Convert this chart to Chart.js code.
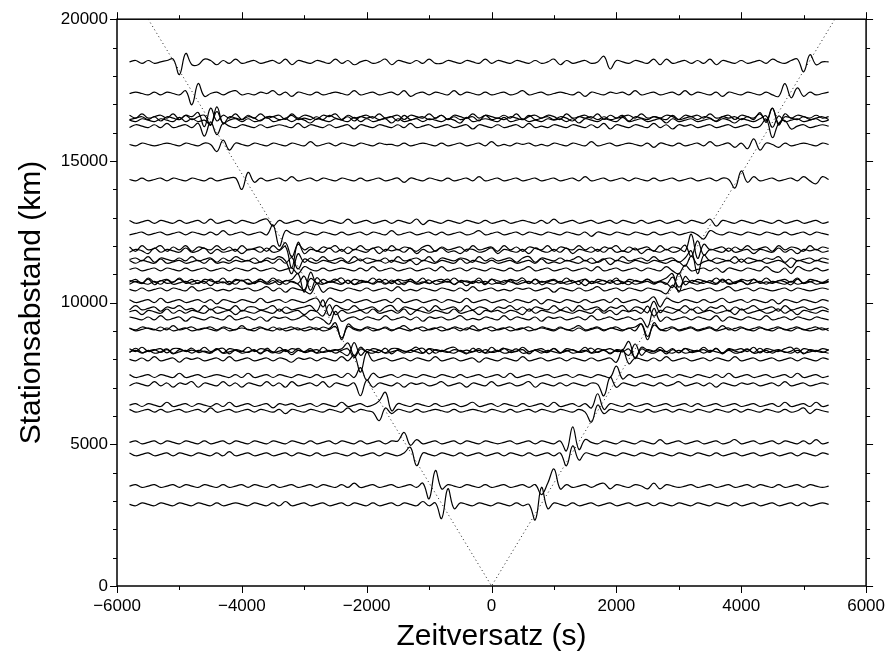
<!DOCTYPE html>
<html>
<head>
<meta charset="utf-8">
<script src="https://cdn.jsdelivr.net/npm/chart.js@4.4.1/dist/chart.umd.min.js"></script>
<style>
  html, body { margin: 0; padding: 0; background: #fff; }
  canvas { display: block; }
</style>
</head>
<body>
<canvas id="traceChart" width="895" height="657"></canvas>
<script>
// Kreuzkorrelationen: Zeitversatz (s) gegen Stationsabstand (km)
var xTicks = [-6000, -4000, -2000, 0, 2000, 4000, 6000];
var yTicks = [0, 5000, 10000, 15000, 20000];

// Abtastung der Spuren: Start, Schritt (s)
var tStart = -5800;
var tStep = 100;

// Laufzeitkurve (gepunktet)
var moveoutTime = [-5500, 0, 5500];
var moveoutDist = [20000, 0, 20000];

// Stationsabstand jeder Spur (km)
var distances = [18493, 17378, 16561, 16508, 16437, 16226, 15580, 14345, 12849, 12440,
  11911, 11827, 11523, 11438, 11170, 10768, 10730, 10698, 10465, 10053,
  9795, 9675, 9442, 9089, 9054, 8324, 8290, 8264, 7996, 7407,
  7114, 6384, 6183, 5068, 4645, 3527, 2881];

// Amplituden (relative Einheiten), je 113 Werte von -5800 bis 5400 s
var tr01 = [0,1,-1,1,-1,0,1,2,-9,6,  -2,-2,2,1,-2,1,-1,2,-1,0,  1,-1,0,1,-1,2,-2,1,0,-1,  1,0,-1,2,-1,1,-2,0,1,-1,  0,2,-2,1,0,-1,1,-1,2,-1,  -1,1,0,-1,1,0,-1,2,-1,1,  0,-1,1,0,-1,1,-1,0,2,-2,  1,-1,0,1,-1,0,4,-5,1,0,  -1,1,0,-1,2,-2,2,-1,0,1,  -1,1,-1,2,-2,1,0,-1,1,-1,  0,1,-1,2,0,-1,1,2,-7,5,  -2,0,0];
var tr02 = [0,1,0,-1,1,-1,1,0,-1,2,  -8,7,-2,0,1,-1,1,2,-1,0,  -1,1,0,2,-1,1,-2,1,0,-1,  1,-1,0,1,0,-1,2,-1,0,1,  -1,0,1,-1,2,-2,0,1,-1,1,  0,-1,2,-1,1,0,-1,1,-1,0,  1,-1,0,2,-1,0,1,-1,0,1,  0,-1,1,-2,1,0,-1,1,0,1,  -1,2,-1,0,1,-1,0,1,-1,2,  -1,1,0,-1,1,-2,1,0,-1,1,  0,-1,1,-1,-2,7,-3,4,-2,1,  -1,0,1];
var tr03 = [1,-1,2,-1,0,1,-1,2,-2,1,  0,3,-7,6,-3,1,-1,2,-2,1,  -1,2,-1,0,1,-2,2,-1,1,0,  -2,1,0,2,-2,1,-1,0,1,-1,  2,-1,0,1,-2,1,0,-1,2,-1,  1,-2,1,0,-1,2,-1,1,0,-1,  1,-1,2,-2,0,1,-1,1,0,-2,  2,-1,0,1,-1,2,-2,1,-1,0,  1,-1,2,-1,0,-1,1,0,-2,1,  0,1,-1,2,-1,0,1,-2,1,0,  -1,2,-3,6,-6,2,-1,1,0,-1,  1,-1,0];
var tr04 = [-1,0,1,-1,1,-2,1,0,-1,2,  -1,1,2,-5,8,-4,1,0,-1,1,  0,-2,1,1,-1,0,2,-1,0,-1,  1,-1,2,0,-1,1,-2,1,0,1,  -1,0,1,-2,2,-1,0,1,-1,0,  2,-1,1,-1,0,1,-2,2,-1,0,  -1,1,0,-1,2,-1,0,1,-1,1,  0,-2,1,0,1,-1,1,-1,0,2,  -2,1,0,-1,1,0,-1,2,-1,0,  1,-1,1,0,-2,1,0,1,-1,1,  -1,4,-3,7,-4,1,0,-1,1,-1,  0,1,-1];
var tr05 = [0,-1,1,0,-1,1,0,-1,2,-1,  1,-1,0,-3,6,-2,0,1,-1,1,  -1,0,2,-1,0,1,-1,1,0,-2,  1,0,-1,1,0,-1,2,-1,1,-1,  0,1,-2,1,-1,0,1,-1,1,0,  -1,1,0,-2,2,-1,0,1,0,-1,  2,-1,0,1,-1,0,-1,1,0,1,  -1,1,-2,1,0,-1,1,0,-1,2,  -1,0,1,-1,0,1,-2,1,-1,0,  1,-1,0,1,-1,1,0,-2,1,0,  -1,1,3,-5,3,-1,0,1,-1,0,  1,-1,0];
var tr06 = [-1,1,0,-1,1,-1,2,-1,0,1,  -1,2,-7,3,-6,2,0,-1,1,0,  -1,1,-1,0,1,0,-1,2,-1,1,  0,-1,1,-1,0,1,-2,1,0,-1,  1,0,-1,1,-1,2,-1,0,1,-1,  0,1,-1,0,1,-2,1,0,-1,1,  -1,0,1,-1,2,-1,0,-1,1,0,  -1,1,0,-1,1,-1,2,-2,1,0,  -1,1,0,-1,2,-1,1,-2,1,0,  1,-1,0,1,-1,0,1,-1,0,1,  -1,0,5,-8,2,4,-2,0,1,-1,  0,1,0];
var tr07 = [0,-1,1,0,-1,0,1,0,-1,1,  0,-1,1,0,-5,3,-4,1,0,-1,  1,0,-1,1,0,-1,1,0,-1,2,  -1,0,1,-1,1,0,-1,1,0,-1,  1,0,0,-1,1,-1,0,1,0,-1,  1,-1,0,1,-1,0,1,-1,2,-1,  0,-1,1,0,1,-1,0,-1,1,0,  -1,1,0,-1,2,-1,0,1,-1,0,  1,0,-1,1,-2,1,0,-1,1,-1,  0,1,-1,2,-1,0,1,-2,1,-3,  4,-4,1,0,-2,1,-1,0,1,0,  -1,1,0];
var tr08 = [0,-1,1,-1,0,1,-1,1,0,-1,  1,0,-1,1,-1,0,1,1,-7,5,  -2,1,-1,0,1,-1,2,-1,0,1,  -1,1,0,-1,1,0,-1,1,-1,0,  1,-1,0,1,-2,1,0,-1,1,0,  -1,1,-1,0,1,-1,2,-1,0,1,  -1,0,1,-1,0,1,-1,0,1,-1,  0,1,-1,2,-1,0,1,-1,0,1,  -1,1,0,-1,1,-1,0,1,-1,0,  1,-1,0,1,-1,1,0,-6,6,-2,  2,-1,0,1,-1,0,1,-1,2,-1,  -3,2,0];
var tr09 = [1,-1,0,1,-1,1,0,-1,1,-1,  0,1,-1,2,-1,0,1,-1,1,0,  -1,1,2,-3,1,-1,0,1,-1,1,  0,-1,1,0,-1,2,-1,0,1,-1,  0,1,-1,1,0,-1,2,-2,1,0,  -1,1,0,-1,1,0,-1,1,-1,0,  1,-1,0,1,0,-1,1,-1,2,-1,  0,1,-1,0,1,-1,0,1,-1,1,  0,-1,1,-1,0,1,-1,0,1,-1,  1,0,-1,2,-3,1,0,-1,1,0,  -1,1,0,-1,1,-1,0,1,-1,0,  1,-1,0];
var tr10 = [-1,0,1,-1,0,1,-1,0,1,-1,  1,0,-1,1,-1,2,-1,0,1,-1,  0,1,-1,6,-9,2,0,-1,1,0,  -1,1,0,-1,1,-1,0,1,-1,1,  0,-1,2,-1,0,1,-1,0,1,-1,  1,-1,0,1,-1,0,2,-1,0,1,  -1,0,1,-1,1,0,-1,1,0,-1,  1,0,-1,1,-2,1,0,-1,1,0,  -1,1,0,-1,1,-1,0,1,-1,0,  1,-1,-4,2,0,-1,1,0,-1,1,  0,-1,1,0,-1,1,-1,0,1,-1,  1,0,-1];
var tr11 = [1,-2,2,-1,0,2,-2,1,-1,2,  -2,1,0,-1,2,-1,1,-2,2,-1,  0,1,-2,2,-1,4,-6,3,-1,1,  -2,1,0,2,-2,1,-1,2,-1,0,  1,-2,2,-1,1,0,-2,1,2,-2,  1,-1,0,1,-2,2,-1,0,1,-2,  2,-1,1,-2,1,0,-1,2,-2,1,  0,-1,2,-1,1,-2,1,0,2,-2,  1,-1,0,1,-2,2,-1,1,0,-2,  10,-7,3,-1,0,1,-2,1,-1,2,  -1,0,1,-2,2,-1,1,0,-2,2,  -1,1,0];
var tr12 = [-1,1,0,-2,2,-1,1,0,-1,2,  -1,0,2,-2,1,-1,0,1,-2,1,  1,-1,2,-1,0,3,-12,6,-2,1,  0,-1,2,-1,1,-2,1,0,-1,2,  -2,1,0,1,-1,2,-2,1,-1,0,  2,-1,0,-2,1,1,-1,0,2,-2,  1,0,-1,1,-2,2,0,-1,1,-1,  2,-2,1,0,-1,1,-1,2,-1,0,  -1,2,-2,1,0,-1,1,-1,0,4,  -4,7,-3,1,0,-1,2,-1,0,1,  -2,1,0,-1,2,-1,1,-2,1,0,  1,-1,0];
var tr13 = [0,1,-1,2,-2,1,0,-1,1,-1,  2,-1,0,1,-2,1,-1,2,0,-1,  1,-2,1,0,2,-1,-10,4,-2,1,  -1,2,-1,0,1,-2,2,-1,1,0,  -1,1,-2,2,-1,0,1,-1,2,-2,  1,0,-1,1,0,-2,2,-1,1,-1,  0,1,-2,1,2,-2,1,0,-1,1,  -1,0,2,-1,1,-2,0,1,-1,2,  -1,0,1,-1,2,-1,0,1,-2,1,  6,-10,3,-1,1,0,-1,2,-2,1,  0,-1,1,0,2,-2,1,-1,0,1,  -1,1,0];
var tr14 = [1,-1,1,0,-1,2,-1,0,1,-1,  0,1,-1,2,-1,0,-1,1,0,1,  -1,0,1,-1,2,-1,3,-5,2,0,  -1,1,0,-1,1,-1,0,2,-1,0,  1,-1,1,0,-1,1,-2,1,0,-1,  1,0,-1,2,-1,1,0,-1,1,-1,  0,1,-1,0,1,-1,2,-1,0,-1,  1,0,-1,1,-1,0,2,-2,1,0,  -1,1,0,-1,1,0,-1,1,0,-3,  4,-2,0,1,-1,0,1,-1,2,-1,  0,1,-1,0,1,-1,-4,1,0,-1,  1,0,-1];
var tr15 = [0,1,-1,0,1,-1,1,0,-1,1,  -1,0,1,-1,0,1,-1,1,0,-1,  1,-1,0,1,-1,0,1,-3,2,0,  -1,1,-1,0,1,0,-1,1,-1,2,  -1,0,1,-1,0,1,-1,0,1,-1,  2,-1,0,1,-1,1,0,-1,1,0,  -1,1,-1,0,2,-1,0,1,-1,0,  1,-1,0,1,-1,2,-1,0,1,-1,  0,1,-1,1,0,-1,2,-1,-3,3,  -1,0,1,-1,1,-2,1,0,-1,1,  0,-1,2,-1,-2,1,-3,2,0,-1,  1,-1,0];
var tr16 = [-1,1,-2,2,-1,0,1,-1,2,-1,  1,-2,1,0,-1,2,-2,1,0,1,  -2,1,-1,2,-1,0,1,5,-8,6,  -2,1,-1,0,2,-2,1,0,-1,2,  -1,1,-2,1,0,1,-1,2,-2,0,  1,-1,2,-1,0,-1,2,-2,1,0,  -1,1,0,2,-2,1,-1,0,1,-1,  2,-1,0,1,-2,1,0,-1,2,-2,  1,0,-1,1,-1,0,2,5,-8,3,  -1,1,0,-1,2,-1,1,-2,1,0,  1,-1,2,-1,0,1,-1,2,-2,1,  0,-1,1];
var tr17 = [1,0,-1,2,-2,1,-1,0,2,-1,  0,1,-1,2,-1,0,-2,1,1,-1,  0,2,-1,1,-2,1,0,-1,4,-6,  3,-1,0,2,-1,1,-2,1,0,-1,  2,-1,0,1,-2,2,-1,0,-1,1,  0,2,-2,1,0,-1,1,-2,2,-1,  1,0,-1,1,-1,2,-2,0,1,-1,  0,1,-2,2,-1,0,1,-1,1,0,  -2,1,0,2,-1,0,-1,-4,6,-2,  1,0,-1,1,-1,2,-1,0,1,-2,  2,-1,0,-1,1,0,-2,2,-1,0,  1,-1,0];
var tr18 = [-1,1,0,-1,1,-1,2,-1,0,1,  -1,0,1,-2,1,0,1,-1,2,-1,  0,1,-1,0,2,-1,1,-1,-5,3,  0,-1,1,0,-1,2,-1,0,1,-1,  1,-1,2,-1,0,1,-1,0,2,-1,  0,1,-1,1,-2,1,0,1,-1,0,  -1,2,-1,0,1,-1,1,0,-1,1,  -1,0,1,-2,1,0,-1,2,-1,0,  1,-1,0,1,-1,1,-1,4,-3,1,  0,-1,1,0,-1,2,-1,0,1,-1,  0,1,-1,1,0,-1,1,-1,0,1,  -1,0,1];
var tr19 = [0,-1,1,-1,0,1,-1,1,0,-1,  2,-1,0,1,-1,0,-1,1,0,1,  -1,0,2,-1,1,-2,1,0,-1,-3,  4,-2,1,0,-1,1,0,-1,1,-1,  0,1,-1,2,-1,0,-1,1,0,-1,  1,0,-1,1,-1,2,-1,0,1,-1,  0,-1,1,0,1,-1,0,1,-2,1,  0,-1,1,-1,0,2,-1,0,1,-1,  1,0,-1,1,0,-1,-3,3,-1,0,  1,-1,0,1,-1,0,2,-1,0,1,  -1,1,0,-1,0,1,-1,1,0,-1,  0,1,0];
var tr20 = [1,-1,0,1,-1,2,-1,0,1,-1,  0,1,-1,1,-2,1,0,-1,1,0,  -1,2,-1,0,1,-1,1,0,-1,1,  2,-4,2,0,-1,1,-1,0,1,-1,  0,1,-1,2,-1,0,1,-1,0,1,  -1,1,0,-1,2,-1,0,1,-1,0,  1,-1,1,0,-1,1,-2,1,0,-1,  1,0,-1,1,-1,0,1,-1,2,-1,  0,1,-1,0,3,-4,2,0,-1,1,  0,-1,1,-1,0,2,-1,0,1,-1,  1,0,-1,1,-2,1,0,-1,1,0,  -1,1,0];
var tr21 = [-1,2,-1,0,1,-2,1,0,2,-1,  0,-2,2,-1,1,0,-1,2,-2,1,  1,-1,0,2,-2,1,-1,0,1,2,  -2,6,-5,2,0,-1,2,-1,0,1,  -2,1,2,-2,1,0,-1,1,-2,2,  -1,0,1,-2,2,-1,1,0,-2,1,  0,2,-1,1,-2,1,0,-1,2,-1,  1,-2,2,-1,0,1,-2,1,0,2,  -2,1,0,-3,5,-3,1,0,-1,2,  -1,1,-2,1,0,2,-2,1,-1,0,  2,-1,0,1,-2,2,-1,0,1,-1,  0,1,-1];
var tr22 = [0,1,-2,1,0,-1,2,-1,1,-1,  1,0,-1,2,-1,0,1,-2,1,0,  -1,1,0,-1,2,-1,0,1,-2,1,  0,-3,5,-2,1,-1,0,1,-1,2,  -1,0,1,-1,2,-2,1,0,-1,1,  0,-1,2,-1,0,1,-2,1,0,1,  -1,1,0,-2,2,-1,1,0,-1,1,  0,-1,1,0,-1,2,-1,1,-2,1,  0,1,-1,4,-3,1,0,-1,1,-1,  2,-1,0,1,-1,0,1,-2,2,-1,  0,1,-1,0,2,-1,1,-2,1,0,  -1,1,0];
var tr23 = [1,0,-1,1,-1,2,-1,0,1,-2,  1,0,-1,1,0,-1,2,-1,0,1,  -1,1,-2,1,0,1,-1,0,2,-1,  1,-1,-4,5,-2,0,1,-1,1,0,  -1,2,-1,0,1,-1,1,-2,1,0,  1,-1,0,2,-1,0,-1,1,0,-1,  2,-1,1,0,-1,1,-2,1,0,1,  -1,0,1,-1,2,-1,0,1,-1,0,  1,-1,0,-6,7,-2,1,-1,0,1,  -1,1,0,-1,2,-2,1,0,-1,1,  0,-1,2,-1,0,1,-1,1,0,-1,  1,0,-1];
var tr24 = [0,-1,1,0,-1,1,-1,2,-1,0,  1,-1,0,1,-1,1,0,-1,2,-1,  0,1,-1,1,-1,0,1,-1,0,1,  -1,1,0,4,-8,3,0,-1,1,0,  -1,1,-1,0,2,-1,0,1,-1,0,  1,-1,1,0,-1,2,-1,0,1,-1,  0,1,-1,0,1,-1,1,0,-1,1,  -1,0,2,-1,0,1,-1,0,1,-1,  0,1,3,-8,4,-1,0,1,-1,0,  1,-1,0,1,-1,2,-1,0,1,-1,  0,1,-1,0,1,-1,0,1,-1,0,  1,-1,0];
var tr25 = [1,-1,0,1,0,-1,1,-1,0,1,  -1,0,1,0,-1,1,-1,0,1,0,  -1,1,0,-1,1,-1,0,1,-1,0,  1,-1,0,2,-6,2,0,-1,1,-1,  0,1,-1,1,0,-1,1,-1,0,1,  -1,0,1,-1,1,0,-1,1,-1,0,  1,-1,0,1,-1,0,1,0,-1,1,  0,-1,1,-1,0,1,-1,1,0,-1,  1,-1,4,-5,3,0,-1,1,-1,0,  1,-1,0,1,-1,0,1,-1,1,0,  -1,1,0,-1,1,0,-1,1,0,-1,  0,1,-1];
var tr26 = [1,-1,2,-1,0,1,-2,1,1,-1,  0,-1,2,-1,1,-2,1,0,-1,2,  -1,1,0,-2,2,-1,1,0,-1,1,  -2,2,-1,0,1,5,-4,2,-1,1,  0,-2,1,1,-1,0,2,-2,1,0,  -1,1,2,-1,0,-1,1,-2,2,-1,  1,0,-1,2,-1,0,1,-1,1,-2,  1,0,-1,2,-2,1,0,1,-1,0,  6,-6,2,0,-1,2,-1,1,-2,1,  0,-1,2,-1,1,-2,1,0,1,-1,  2,-2,1,0,-1,1,2,-2,1,0,  -1,1,0];
var tr27 = [-1,2,-1,0,1,-1,1,-2,1,0,  2,-1,0,-1,1,2,-2,1,0,-1,  1,-2,2,-1,0,1,-1,2,-1,0,  1,-1,0,1,-1,-3,6,-3,1,0,  -1,2,-2,1,0,-1,1,2,-2,1,  0,-1,1,0,-2,2,-1,1,-1,0,  2,-1,0,1,-2,1,0,-1,2,-1,  0,1,-1,0,2,-1,1,-2,1,0,  -3,5,-3,1,0,1,-2,1,-1,2,  -1,0,1,-1,2,-2,1,0,-1,1,  -1,2,-1,0,1,-1,0,2,-2,1,  0,-1,1];
var tr28 = [0,1,-1,1,-1,0,2,-1,0,1,  -1,1,0,-1,2,-1,0,1,-1,0,  1,-1,1,0,-1,1,-2,1,0,1,  -1,0,1,-1,1,2,-4,2,0,-1,  1,-1,0,1,-1,1,0,-1,2,-1,  1,0,-1,1,-1,0,1,-1,0,1,  -1,0,2,-1,0,1,-1,1,0,-1,  1,-1,0,1,-1,0,1,-1,1,0,  2,-4,2,0,-1,1,0,-1,1,-1,  0,1,-1,1,0,-1,1,-1,0,2,  -1,0,1,-1,1,0,-1,1,-1,0,  1,0,-1];
var tr29 = [0,-1,1,-1,2,-1,0,1,-2,1,  0,1,-1,0,1,-1,2,-1,0,1,  -1,0,1,-1,1,0,-2,1,0,1,  -1,1,0,-1,2,-1,3,-9,5,-1,  0,1,-1,0,1,-1,1,0,-1,2,  -1,0,1,-1,0,1,-2,1,0,-1,  1,0,-1,2,-1,0,1,-1,0,1,  -1,1,0,-1,1,-1,0,1,-2,7,  -3,1,0,-1,1,-1,2,-1,0,1,  -1,0,1,-1,1,0,-1,2,-1,0,  1,-1,0,1,-1,0,1,-1,1,0,  -1,1,0];
var tr30 = [1,-1,0,1,-1,1,0,-1,2,-1,  0,1,-1,0,1,0,-1,1,-1,2,  -1,0,1,-1,1,0,-1,1,0,-1,  1,-1,0,1,-1,2,-1,6,-3,2,  -1,0,1,-1,1,0,-1,1,0,-1,  1,0,-1,1,-1,0,1,-1,0,1,  -1,2,-1,0,1,-1,0,1,-1,0,  1,-1,1,0,-1,1,0,-1,7,-2,  1,-1,0,1,-1,0,1,-1,1,0,  -1,1,0,-1,1,-1,2,-1,0,1,  -1,0,1,-1,0,1,-1,2,-1,0,  1,-1,0];
var tr31 = [-1,1,0,-1,2,-1,1,-2,1,0,  2,-2,1,0,-1,2,-1,1,-2,1,  0,-1,2,-1,1,-2,2,-1,0,1,  -1,2,-2,1,0,-1,1,-8,3,-2,  1,0,-1,1,-2,1,0,1,-1,0,  2,-1,0,1,-2,1,0,-1,2,-1,  0,1,-1,0,2,-2,1,0,-1,1,  -1,1,0,-1,1,0,-8,5,-2,1,  0,-1,1,0,-1,1,-1,0,2,-1,  0,1,-1,1,-2,1,0,-1,1,0,  1,-1,0,1,-1,2,-1,0,1,-1,  0,1,0];
var tr32 = [0,1,-1,1,0,-1,2,-1,0,1,  -1,1,0,-1,1,-1,2,-1,0,1,  -1,0,1,-2,1,0,1,-1,0,1,  -1,1,0,-1,2,-1,0,1,-1,0,  3,9,-4,1,0,-1,1,0,-1,1,  -1,0,1,-1,0,2,-1,0,1,-1,  1,0,-1,1,-1,0,1,-1,2,-1,  0,1,-1,1,-2,8,-3,1,0,-1,  1,-1,0,1,-1,0,1,-1,0,1,  -1,1,-1,0,1,-1,0,1,-1,0,  1,-1,0,1,-1,2,-1,0,1,-1,  2,-1,0];
var tr33 = [1,-1,0,1,-1,1,-1,0,1,-1,  0,1,-1,2,-1,0,1,-1,0,1,  -1,1,0,-1,1,-2,1,0,-1,1,  0,-1,1,0,-1,2,-1,1,0,-1,  -7,2,-2,1,0,-1,1,-1,0,1,  0,-1,1,-1,0,1,0,-1,1,0,  -1,1,-1,0,1,-1,1,0,-1,1,  0,-1,1,-1,-8,4,-2,1,0,-1,  1,0,-1,1,-1,0,1,-1,1,0,  -1,1,0,-1,1,0,-1,1,-1,1,  0,-1,1,0,-1,1,-1,0,2,-2,  1,0,-1];
var tr34 = [0,1,-1,0,1,-1,1,0,-1,1,  0,-1,1,-1,0,1,-1,1,0,-1,  1,0,-1,1,0,-1,1,0,-1,1,  -1,0,1,-1,1,0,-1,1,-1,0,  1,-1,1,1,7,-2,2,-1,0,1,  -1,0,1,-1,1,0,-1,1,0,-1,  0,1,-1,0,1,-1,1,0,-1,1,  -6,11,-5,2,0,-1,1,0,-1,1,  0,-1,1,0,-1,2,-1,0,1,-1,  0,1,-1,0,1,-1,0,2,-1,0,  1,-1,0,1,-1,1,0,-1,1,-1,  2,-1,0];
var tr35 = [1,-1,0,1,-1,0,1,-1,1,0,  -1,1,0,-1,1,-1,2,-1,0,1,  -1,0,1,-1,0,1,-1,1,0,-1,  1,-1,0,1,0,-1,1,-1,0,1,  -1,1,0,-1,1,5,-8,1,0,-1,  1,0,-1,1,-1,0,1,-1,0,1,  -1,1,0,-1,1,-1,0,1,-1,1,  -8,6,-4,1,0,-1,1,0,-1,1,  0,-1,1,0,-1,1,0,-1,1,0,  -1,1,0,-1,1,-1,0,1,-1,0,  1,-1,0,1,-1,0,1,-1,1,0,  -1,1,0];
var tr36 = [0,1,-1,0,1,-1,0,1,-1,1,  0,-1,1,0,-1,1,-1,0,1,-1,  1,0,-1,1,-1,0,1,-1,0,1,  -1,1,0,-1,1,-1,2,-1,0,1,  -1,0,1,-1,0,1,-1,2,-9,11,  -2,1,0,-1,1,0,-1,1,-1,0,  1,-1,0,1,-1,1,-6,2,12,-2,  1,-1,0,1,-1,1,2,-2,1,0,  -1,1,0,-2,2,-2,1,0,-1,0,  1,-1,0,1,-1,0,1,-1,0,1,  -1,1,0,-1,1,-1,0,1,-1,1,  0,-1,0];
var tr37 = [0,-1,1,0,-1,1,0,-1,1,0,  -1,1,0,-1,1,-1,0,1,0,-1,  1,0,-1,1,-1,2,-1,0,1,-1,  0,1,-1,0,1,-1,1,0,-1,1,  -1,0,1,-1,1,0,-1,2,-1,1,  -10,11,-3,1,0,-1,1,0,-1,1,  0,-1,1,-1,0,-11,12,-3,1,0,  -1,1,-1,0,1,-1,0,1,-1,0,  1,-1,0,1,-1,1,0,-1,1,0,  -1,1,0,-1,1,0,-1,1,-1,0,  1,-1,0,1,-1,0,1,-1,1,-1,  0,1,0];

var traces = [tr01, tr02, tr03, tr04, tr05, tr06, tr07, tr08, tr09, tr10,
  tr11, tr12, tr13, tr14, tr15, tr16, tr17, tr18, tr19, tr20,
  tr21, tr22, tr23, tr24, tr25, tr26, tr27, tr28, tr29, tr30,
  tr31, tr32, tr33, tr34, tr35, tr36, tr37];

// km pro Amplitudeneinheit
var gain = 50;
var fontFamily = "'Liberation Sans', Arial, Helvetica, sans-serif";

function minusLabel(v) {
    return v < 0 ? '\u2212' + Math.abs(v) : String(v);
}

var datasets = [];

// gepunktete Laufzeitkurve
datasets.push({
    data: moveoutTime.map(function (t, i) { return {x: t, y: moveoutDist[i]}; }),
    borderColor: '#222',
    borderWidth: 1,
    borderDash: [1, 3],
    pointRadius: 0,
    tension: 0
});

traces.forEach(function (amp, k) {
    datasets.push({
        data: amp.map(function (a, i) {
            return {x: tStart + i * tStep, y: distances[k] + a * gain};
        }),
        borderColor: '#000',
        borderWidth: 1.2,
        pointRadius: 0,
        tension: 0.4
    });
});

// Rahmen und Teilstriche (auch oben und rechts)
var frameTicks = {
    id: 'frameTicks',
    afterDraw: function (chart) {
        var ctx = chart.ctx, a = chart.chartArea;
        var xs = chart.scales.x, ys = chart.scales.y;
        ctx.save();
        ctx.strokeStyle = '#000';
        ctx.lineWidth = 1.5;
        ctx.strokeRect(a.left, a.top, a.right - a.left, a.bottom - a.top);
        ctx.lineWidth = 1;
        ctx.beginPath();
        for (var v = xs.min; v <= xs.max; v += 1000) {
            var px = Math.round(xs.getPixelForValue(v)) + 0.5;
            var len = xTicks.indexOf(v) >= 0 ? 7 : 4;
            ctx.moveTo(px, a.bottom); ctx.lineTo(px, a.bottom + len);
            ctx.moveTo(px, a.top); ctx.lineTo(px, a.top - len);
        }
        for (var w = ys.min; w <= ys.max; w += 1000) {
            var py = Math.round(ys.getPixelForValue(w)) + 0.5;
            var l2 = yTicks.indexOf(w) >= 0 ? 7 : 4;
            ctx.moveTo(a.left, py); ctx.lineTo(a.left - l2, py);
            ctx.moveTo(a.right, py); ctx.lineTo(a.right + l2, py);
        }
        ctx.stroke();
        ctx.restore();
    }
};

var ctx = document.getElementById('traceChart').getContext('2d');
var traceChart = new Chart(ctx, {
    type: 'line',
    data: {datasets: datasets},
    options: {
        responsive: false,
        animation: false,
        events: [],
        layout: {padding: {left: 0, right: 23, top: 19, bottom: 0}},
        plugins: {legend: {display: false}, tooltip: {enabled: false}},
        scales: {
            x: {
                type: 'linear',
                min: -6000,
                max: 6000,
                afterBuildTicks: function (s) { s.ticks = xTicks.map(function (v) { return {value: v}; }); },
                afterFit: function (s) { s.height = 71; },
                grid: {display: false, drawTicks: false},
                border: {display: false},
                ticks: {
                    color: '#000',
                    padding: 10,
                    maxRotation: 0,
                    font: {family: fontFamily, size: 17},
                    callback: minusLabel
                },
                title: {
                    display: true,
                    text: 'Zeitversatz (s)',
                    color: '#000',
                    font: {family: fontFamily, size: 30, lineHeight: 1.2},
                    padding: {top: 0, bottom: 2}
                }
            },
            y: {
                type: 'linear',
                min: 0,
                max: 20000,
                afterBuildTicks: function (s) { s.ticks = yTicks.map(function (v) { return {value: v}; }); },
                afterFit: function (s) { s.width = 117; },
                grid: {display: false, drawTicks: false},
                border: {display: false},
                ticks: {
                    color: '#000',
                    padding: 9,
                    font: {family: fontFamily, size: 17},
                    callback: minusLabel
                },
                title: {
                    display: true,
                    text: 'Stationsabstand (km)',
                    color: '#000',
                    font: {family: fontFamily, size: 30, lineHeight: 1.2},
                    padding: {top: 14, bottom: 0}
                }
            }
        }
    },
    plugins: [frameTicks]
});
</script>
</body>
</html>
